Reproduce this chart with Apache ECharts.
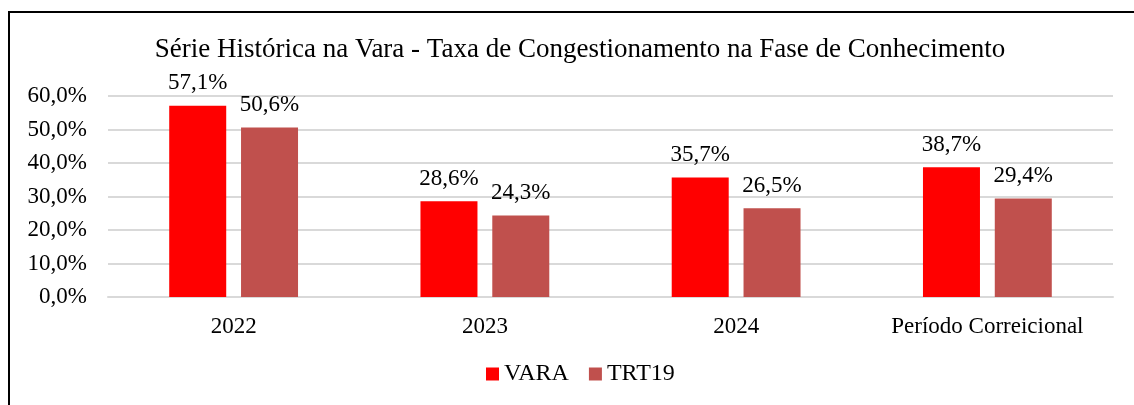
<!DOCTYPE html>
<html>
<head>
<meta charset="utf-8">
<script src="https://cdn.jsdelivr.net/npm/echarts@6/dist/echarts.min.js"></script>
<style>
  html, body { margin: 0; padding: 0; background: #fff; }
  #chart { width: 1134px; height: 405px; }
</style>
</head>
<body>
<div id="chart"></div>
<script>
// chart data
var categories = ["2022", "2023", "2024", "Período Correicional"];
var varaValues = [57.1, 28.6, 35.7, 38.7];
var trtValues = [50.6, 24.3, 26.5, 29.4];
var seriesNames = ["VARA", "TRT19"];

var serif = "'Liberation Serif', 'Times New Roman', serif";

function pct(v) {
  return v.toFixed(1).replace(".", ",") + "%";
}

var myChart = echarts.init(document.getElementById("chart"));

var option = {
  animation: false,
  textStyle: { fontFamily: serif },
  graphic: [
    {
      type: "rect",
      shape: { x: 9, y: 12, width: 1200, height: 500 },
      style: { fill: "none", stroke: "#000", lineWidth: 2 },
      silent: true,
    },
  ],
  title: {
    text: "Série Histórica na Vara - Taxa de Congestionamento na Fase de Conhecimento",
    left: 575,
    textAlign: "center",
    top: 31,
    textStyle: {
      fontFamily: serif,
      fontSize: 27,
      fontWeight: "normal",
      color: "#000",
    },
  },
  legend: {
    data: seriesNames,
    bottom: 14,
    left: 481,
    itemWidth: 13,
    itemHeight: 13,
    itemGap: 20,
    icon: "rect",
    textStyle: { fontFamily: serif, fontSize: 24, color: "#000", padding: [0, 0, 0, 0] },
  },
  grid: {
    left: 108,
    right: 21,
    top: 96,
    bottom: 108,
  },
  xAxis: {
    type: "category",
    data: categories,
    axisLine: { lineStyle: { color: "#d9d9d9", width: 2 } },
    axisTick: { show: false },
    axisLabel: { color: "#000", fontSize: 23, fontFamily: serif, margin: 18 },
  },
  yAxis: {
    type: "value",
    min: 0,
    max: 60,
    interval: 10,
    axisLine: { show: false },
    axisTick: { show: false },
    splitLine: { lineStyle: { color: "#d9d9d9", width: 2 } },
    axisLabel: {
      color: "#000",
      fontSize: 23,
      fontFamily: serif,
      margin: 21,
      formatter: function (v) {
        return pct(v);
      },
    },
  },
  series: [
    {
      name: seriesNames[0],
      type: "bar",
      data: varaValues,
      barWidth: 57,
      barGap: "26%",
      itemStyle: { color: "#ff0000" },
      label: {
        show: true,
        position: "top",
        distance: 11,
        color: "#000",
        fontSize: 23,
        fontFamily: serif,
        formatter: function (p) {
          return pct(p.value);
        },
      },
    },
    {
      name: seriesNames[1],
      type: "bar",
      data: trtValues,
      barWidth: 57,
      itemStyle: { color: "#c0504d" },
      label: {
        show: true,
        position: "top",
        distance: 11,
        color: "#000",
        fontSize: 23,
        fontFamily: serif,
        formatter: function (p) {
          return pct(p.value);
        },
      },
    },
  ],
};

myChart.setOption(option);
</script>
</body>
</html>
